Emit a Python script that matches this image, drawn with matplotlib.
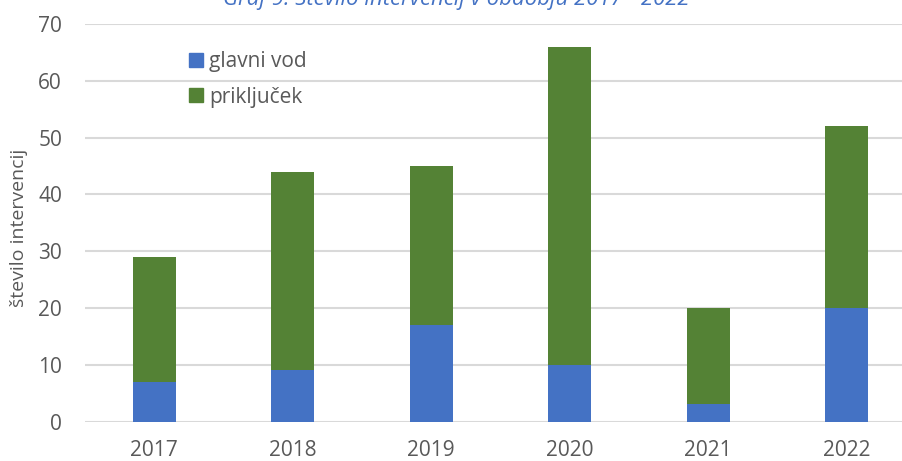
import matplotlib
matplotlib.use("Agg")
import matplotlib.pyplot as plt
from matplotlib.patches import Patch
import numpy as np

years = ["2017", "2018", "2019", "2020", "2021", "2022"]
glavni_vod = [7, 9, 17, 10, 3, 20]
prikljucek = [22, 35, 28, 56, 17, 32]
series_labels = ["glavni vod", "priključek"]
title = "Graf 9: Število intervencij v obdobju 2017 - 2022"
ylabel = "število intervencij"

BLUE = "#4472C4"
GREEN = "#548235"
GRID = "#D9D9D9"
TXT = "#595959"

plt.rcParams["font.family"] = ["Open Sans", "DejaVu Sans"]

W, H = 902, 461
fig = plt.figure(figsize=(W / 100, H / 100), dpi=100)
left, right, top, bottom = 85, 916, 24, 421.5
ax = fig.add_axes([left / W, 1 - bottom / H, (right - left) / W, (bottom - top) / H])

x = np.arange(len(years))
bw = 0.314
ax.bar(x, glavni_vod, bw, color=BLUE, zorder=3)
ax.bar(x, prikljucek, bw, bottom=glavni_vod, color=GREEN, zorder=3)

ax.set_xlim(-0.5, len(years) - 0.5)
ax.set_ylim(0, 70)
ax.set_yticks(range(0, 71, 10))
ax.set_xticks(x)
ax.set_xticklabels(years)
ax.yaxis.grid(True, color=GRID, lw=1.5, zorder=0)
ax.set_axisbelow(True)
for s in ax.spines.values():
    s.set_visible(False)
ax.tick_params(axis="both", length=0, labelsize=15, labelcolor=TXT)
ax.tick_params(axis="y", pad=16.5)
ax.tick_params(axis="x", pad=13)

fig.text(19 / W, 1 - 228 / H, ylabel, rotation=90, ha="center", va="center",
         fontsize=14, color=TXT)

fig.text(456 / W, 1 - 5 / H, title, ha="center", va="baseline",
         fontsize=15.9, color=BLUE, style="italic")

handles = [Patch(color=BLUE), Patch(color=GREEN)]
ax.legend(handles, series_labels, loc="upper left",
          bbox_to_anchor=(189 / W, 1 - 51 / H), bbox_transform=fig.transFigure,
          frameon=False, fontsize=15, labelcolor=TXT, handlelength=0.67,
          handleheight=0.67, handletextpad=0.3, labelspacing=0.7,
          borderpad=0, borderaxespad=0)

fig.savefig("out.png", dpi=100)
